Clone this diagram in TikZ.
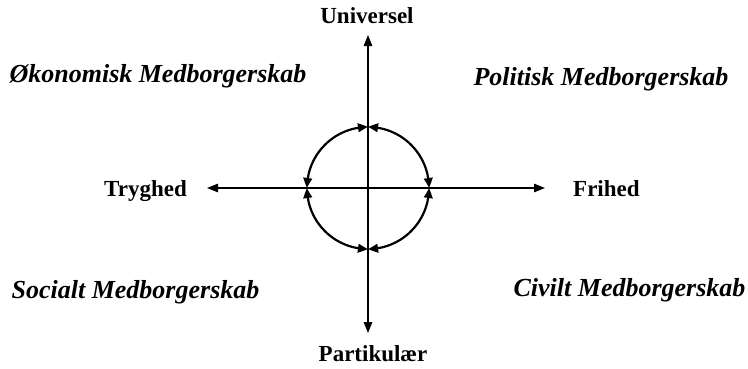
\documentclass[tikz,border=0pt]{standalone}
\usepackage{fontspec}
\setmainfont{Liberation Serif}
\usetikzlibrary{arrows.meta,bending}
\begin{document}
\begin{tikzpicture}[x=1pt,y=1pt,
  axis/.style={line width=1.3pt,{Triangle[length=11pt,width=8.5pt]}-{Triangle[length=11pt,width=8.5pt]}},
  circarc/.style={line width=2.2pt,{Triangle[length=10pt,width=8.5pt,bend]}-{Triangle[length=10pt,width=8.5pt,bend]}},
  axlabel/.style={font=\fontsize{23}{26}\selectfont\bfseries,inner sep=0pt},
  quad/.style={font=\fontsize{26}{29}\selectfont\bfseries\itshape,inner sep=0pt}]
\useasboundingbox (0,0) rectangle (748,368);
\coordinate (c) at (368,180);
\coordinate (left) at (207,180);
\coordinate (right) at (545,180);
\coordinate (top) at (368,333);
\coordinate (bottom) at (368,35);
\draw[axis] (left) -- (right);
\draw[axis] (bottom) -- (top);
\draw[circarc] ([xshift=61pt]c) arc[start angle=0,end angle=90,radius=61];
\draw[circarc] ([yshift=61pt]c) arc[start angle=90,end angle=180,radius=61];
\draw[circarc] ([xshift=-61pt]c) arc[start angle=180,end angle=270,radius=61];
\draw[circarc] ([yshift=-61pt]c) arc[start angle=270,end angle=360,radius=61];
\node[axlabel,anchor=base east] (tryghed) at (187,172) {Tryghed};
\node[axlabel,anchor=base west] (frihed) at (573,172) {Frihed};
\node[axlabel] (universel) at (367,352) {Universel};
\node[axlabel] (partikulaer) at (373,14) {Partikulær};
\node[quad] (okonomisk) at (158,292) {Økonomisk Medborgerskab};
\node[quad] (politisk) at (601,289) {Politisk Medborgerskab};
\node[quad] (socialt) at (135.5,76) {Socialt Medborgerskab};
\node[quad] (civilt) at (629.5,78) {Civilt Medborgerskab};
\end{tikzpicture}
\end{document}
